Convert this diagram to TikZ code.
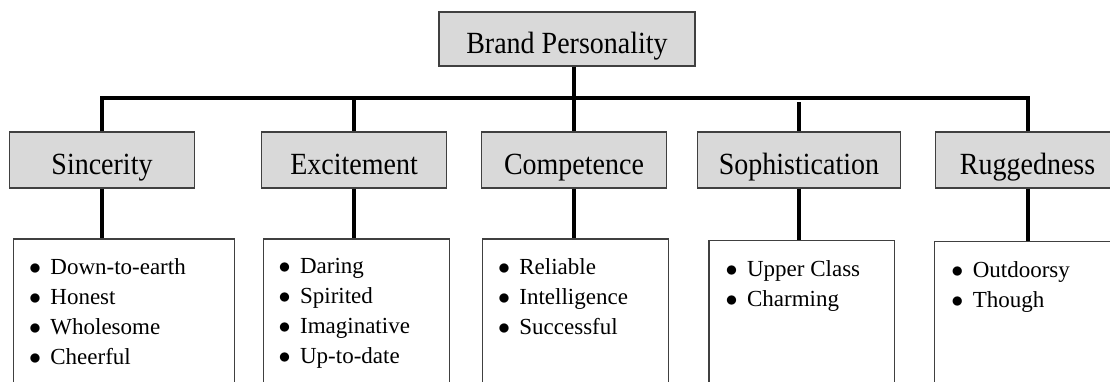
\documentclass[tikz,border=0pt]{standalone}
\usepackage{fontspec}
\setmainfont{Liberation Serif}
\usepackage{xcolor}
\usepackage{graphicx}
\usepackage{tikz}
\usetikzlibrary{positioning,calc}
\definecolor{boxgray}{RGB}{217, 217, 217}
\definecolor{edgegray}{RGB}{64, 64, 64}
\newcommand{\itembullet}{\makebox[10.7pt][l]{$\bullet$}}
\newcommand{\tall}[1]{\scalebox{1}[1.1]{#1}}

\begin{document}
\begin{tikzpicture}[
    x=0.5pt, y=-0.5pt,
    catbox/.style={rectangle, draw=edgegray, fill=boxgray, line width=0.6pt, minimum width=92.5pt, minimum height=28pt, text height=17pt, text depth=3pt, inner ysep=4pt, font=\fontsize{14pt}{16pt}\selectfont},
    topbox/.style={catbox, minimum width=128pt, minimum height=27pt, inner ysep=3.5pt},
    listbox/.style={rectangle, draw=edgegray, line width=0.6pt, minimum width=93pt, minimum height=80pt, anchor=north west},
    items/.style={inner sep=0pt, align=left, font=\fontsize{11.5pt}{15pt}\selectfont},
    tree/.style={line width=2pt, line join=miter}
]
    \useasboundingbox (0,0) rectangle (1110,381);

    % Top
    \node[topbox] (brand) at (567,39) {\tall{Brand Personality}};
    \coordinate (bar) at (0,98.3);

    % Dimensions
    \node[catbox] (sinc) at (102,160) {\tall{Sincerity}};
    \node[catbox] (exci) at (354,160) {\tall{Excitement}};
    \node[catbox] (comp) at (574,160) {\tall{Competence}};
    \node[catbox, minimum width=101.5pt] (soph) at (799,160) {\tall{Sophistication}};
    \node[catbox] (rugg) at (1027.6,160) {\tall{Ruggedness}};

    % Traits
    \node[listbox, minimum width=110.6pt] (sincL) at (13,238.3) {};
    \node[listbox] (exciL) at (262.7,238.3) {};
    \node[listbox, minimum width=92.8pt] (compL) at (482,238.3) {};
    \node[listbox, minimum width=92.9pt] (sophL) at (708.3,240) {};
    \node[listbox] (ruggL) at (934,241) {};

    \node[items, below right=10pt and 7.8pt of sincL.north west] {\itembullet Down-to-earth\\ \itembullet Honest\\ \itembullet Wholesome\\ \itembullet Cheerful};
    \node[items, below right=10pt and 7.8pt of exciL.north west] {\itembullet Daring\\ \itembullet Spirited\\ \itembullet Imaginative\\ \itembullet Up-to-date};
    \node[items, below right=10pt and 7.8pt of compL.north west] {\itembullet Reliable\\ \itembullet Intelligence\\ \itembullet Successful};
    \node[items, below right=10pt and 8.5pt of sophL.north west] {\itembullet Upper Class\\ \itembullet Charming};
    \node[items, below right=10pt and 8.5pt of ruggL.north west] {\itembullet Outdoorsy\\ \itembullet Though};

    % Connectors
    \draw[tree] (brand.south -| comp.north) -- (comp.north);
    \draw[tree] (sinc.north) |- (bar -| rugg.north) -- (rugg.north);
    \draw[tree] (bar -| exci.north) -- (exci.north);
    \draw[tree] ([yshift=-2pt]bar -| soph.north) -- (soph.north);

    \draw[tree] (sinc.south) -- (sinc.south |- sincL.north);
    \draw[tree] (exci.south) -- (exci.south |- exciL.north);
    \draw[tree] (comp.south) -- (comp.south |- compL.north);
    \draw[tree] (soph.south) -- (soph.south |- sophL.north);
    \draw[tree] (rugg.south) -- (rugg.south |- ruggL.north);

\end{tikzpicture}
\end{document}
